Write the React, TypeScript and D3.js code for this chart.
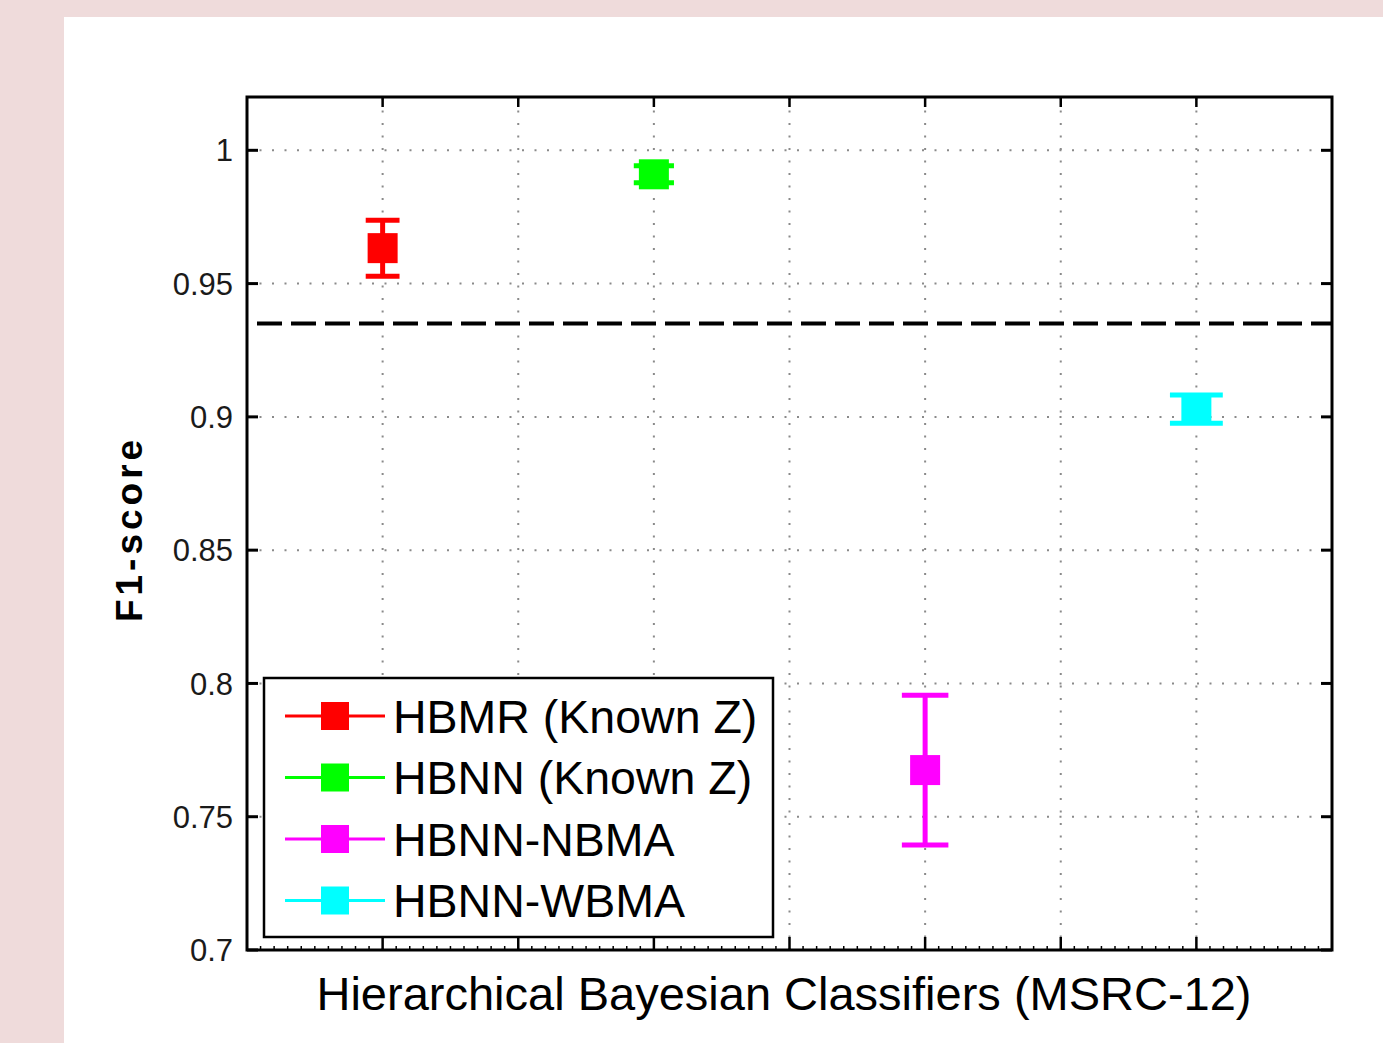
import React from 'react';
import * as d3 from 'd3';

// values
const seriesNames = ["HBMR (Known Z)", "HBNN (Known Z)", "HBNN-NBMA", "HBNN-WBMA"];
const seriesColors = ["#ff0000", "#00ff00", "#ff00ff", "#00ffff"];
const positions = [1, 3, 5, 7];
const means = [0.9633, 0.991, 0.7675, 0.9029];
const errors = [0.0105, 0.0032, 0.0281, 0.0053];
const baselineScore = 0.935;

const yTicks = [0.7, 0.75, 0.8, 0.85, 0.9, 0.95, 1];
const yTickLabels = ["0.7", "0.75", "0.8", "0.85", "0.9", "0.95", "1"];
const xGrid = [1, 2, 3, 4, 5, 6, 7];

const W = 1383, H = 1043;
const margin = {left: 247, right: 1332, top: 97, bottom: 950};
const font = "'Liberation Sans', Arial, Helvetica, sans-serif";

const App: React.FC = () => {
  const x = d3.scaleLinear().domain([0, 8]).range([margin.left, margin.right]);
  const y = d3.scaleLinear().domain([0.7, 1.02]).range([margin.bottom, margin.top]);
  const unit = x(1) - x(0);
  const minorTicks = d3.range(1, 80).map(i => i / 10).filter(v => Math.abs(v - Math.round(v)) > 1e-6);

  const dots = {stroke: "#8a8a8a", strokeWidth: 2, strokeDasharray: "2 10.5"};
  const marker = 30;

  // legend layout
  const lg = {x: 264, y: 678, w: 509, h: 259, row: 61.5, first: 716};

  return (
    <svg width={W} height={H} style={{position: "absolute", left: 0, top: 0, display: "block"}}>
      <rect x={0} y={0} width={W} height={H} fill="#efdbdb"/>
      <rect x={64} y={17} width={W - 64} height={H - 17} fill="#ffffff"/>

      {/* grid */}
      {yTicks.slice(1).map(t => (
        <line key={"gy" + t} x1={margin.left} x2={margin.right} y1={y(t)} y2={y(t)} {...dots}/>
      ))}
      {xGrid.map(t => (
        <line key={"gx" + t} x1={x(t)} x2={x(t)} y1={margin.bottom} y2={margin.top} {...dots}/>
      ))}

      {/* baseline */}
      <line x1={margin.left} x2={margin.right} y1={y(baselineScore)} y2={y(baselineScore)}
            stroke="#000" strokeWidth={4} strokeDasharray="25 9" strokeDashoffset={24}/>

      {/* error bars */}
      {positions.map((p, i) => {
        const cx = x(p);
        const half = (0.113 + 0.0117 * p) * unit;
        const top = y(means[i] + errors[i]);
        const bot = y(means[i] - errors[i]);
        return (
          <g key={"s" + i} stroke={seriesColors[i]} fill={seriesColors[i]}>
            <line x1={cx} x2={cx} y1={top} y2={bot} strokeWidth={5}/>
            <line x1={cx - half} x2={cx + half} y1={top} y2={top} strokeWidth={5}/>
            <line x1={cx - half} x2={cx + half} y1={bot} y2={bot} strokeWidth={5}/>
            <rect x={cx - marker / 2} y={y(means[i]) - marker / 2} width={marker} height={marker} stroke="none"/>
          </g>
        );
      })}

      {/* axes box */}
      <rect x={margin.left} y={margin.top} width={margin.right - margin.left} height={margin.bottom - margin.top}
            fill="none" stroke="#000" strokeWidth={3}/>
      {yTicks.map((t, i) => (
        <g key={"yt" + t}>
          <line x1={margin.left} x2={margin.left + 11} y1={y(t)} y2={y(t)} stroke="#000" strokeWidth={3}/>
          <line x1={margin.right} x2={margin.right - 11} y1={y(t)} y2={y(t)} stroke="#000" strokeWidth={3}/>
          <text x={233} y={y(t)} dy="0.36em" textAnchor="end" fontFamily={font} fontSize={31} fill="#1a1a1a">
            {yTickLabels[i]}
          </text>
        </g>
      ))}
      {xGrid.map(t => (
        <g key={"xt" + t}>
          <line x1={x(t)} x2={x(t)} y1={margin.bottom} y2={margin.bottom - 13} stroke="#000" strokeWidth={2.5}/>
          <line x1={x(t)} x2={x(t)} y1={margin.top} y2={margin.top + 10} stroke="#000" strokeWidth={2.5}/>
        </g>
      ))}
      {minorTicks.map(t => (
        <line key={"mt" + t} x1={x(t)} x2={x(t)} y1={margin.bottom} y2={margin.bottom - 4} stroke="#000" strokeWidth={1.5}/>
      ))}

      {/* legend */}
      <rect x={lg.x} y={lg.y} width={lg.w} height={lg.h} fill="#fff" stroke="#000" strokeWidth={2.5}/>
      {seriesNames.map((name, i) => {
        const ly = lg.first + i * lg.row;
        return (
          <g key={"lg" + i}>
            <line x1={285} x2={385} y1={ly} y2={ly} stroke={seriesColors[i]} strokeWidth={3}/>
            <rect x={335 - 14} y={ly - 14} width={28} height={28} fill={seriesColors[i]}/>
            <text x={393} y={ly} dy="0.36em" fontFamily={font} fontSize={46.5} fill="#000">{name}</text>
          </g>
        );
      })}

      {/* axis labels */}
      <text x={784} y={1010} textAnchor="middle" fontFamily={font} fontSize={47} fill="#000">
        Hierarchical Bayesian Classifiers (MSRC-12)
      </text>
      <text transform={`translate(142, 529) rotate(-90)`} textAnchor="middle" fontFamily={font}
            fontSize={37} fontWeight="bold" letterSpacing={4} fill="#000">
        F1-score
      </text>
    </svg>
  );
};

export default App;
